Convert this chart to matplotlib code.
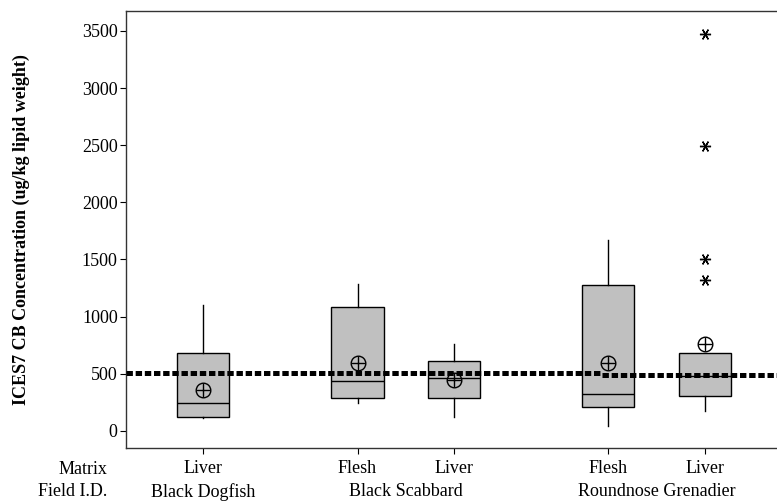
import matplotlib
matplotlib.use("Agg")
import matplotlib.pyplot as plt
import matplotlib.transforms as mtransforms

plt.rcParams['font.family'] = ['Liberation Serif', 'DejaVu Serif']
plt.rcParams['lines.scale_dashes'] = False

# ---- data ----
matrix = ["Liver", "Flesh", "Liver", "Flesh", "Liver"]
species = ["Black Dogfish", "Black Scabbard", "Black Scabbard",
           "Roundnose Grenadier", "Roundnose Grenadier"]
positions = [1.0, 2.6, 3.6, 5.2, 6.2]
whisker_low = [111, 248, 125, 46, 175]
q1 = [125, 291, 291, 213, 304]
median = [248, 440, 467, 326, 481]
q3 = [680, 1085, 615, 1275, 680]
whisker_high = [1102, 1289, 758, 1671, 680]
mean = [359, 598, 446, 598, 764]
outliers = [[], [], [], [], [1321, 1502, 2496, 3471]]
group_names = ["Black Dogfish", "Black Scabbard", "Roundnose Grenadier"]
ref_level = [504, 487]        # dashed reference line, two segments
ref_break = 5.13              # x where reference level changes
yticks = [0, 500, 1000, 1500, 2000, 2500, 3000, 3500]

fig = plt.figure(figsize=(7.77, 5.03), dpi=100)
ax = fig.add_axes([126/777, 1 - 448/503, (782 - 126)/777, (448 - 11)/503])

stats = []
for i in range(len(positions)):
    stats.append(dict(med=median[i], q1=q1[i], q3=q3[i],
                      whislo=whisker_low[i], whishi=whisker_high[i],
                      fliers=outliers[i], mean=mean[i]))

ax.bxp(stats, positions=positions, widths=0.54, patch_artist=True,
       showcaps=False, showmeans=False, showfliers=True,
       boxprops=dict(facecolor='#c0c0c0', edgecolor='black', linewidth=1.0),
       medianprops=dict(color='black', linewidth=1.0),
       whiskerprops=dict(color='black', linewidth=1.0),
       flierprops=dict(marker=(6, 2, 90), markersize=8, markeredgecolor='black',
                       markerfacecolor='black', markeredgewidth=1.0,
                       linestyle='none'),
       zorder=2)

# mean symbols (circle with cross)
ax.plot(positions, mean, linestyle='none', marker='o', markersize=10.5,
        markerfacecolor='none', markeredgecolor='black', markeredgewidth=1.0, zorder=4)
ax.plot(positions, mean, linestyle='none', marker='+', markersize=10.5,
        markeredgecolor='black', markeredgewidth=1.0, zorder=4)

# dashed reference line
xl = (0.2, 7.0)
ax.plot([xl[0], ref_break], [ref_level[0], ref_level[0]], color='black',
        linewidth=3.6, dashes=(4.6, 2.0), zorder=3, dash_capstyle='butt')
ax.plot([ref_break, xl[1]], [ref_level[1], ref_level[1]], color='black',
        linewidth=3.6, dashes=(4.6, 2.0), zorder=3, dash_capstyle='butt')

ax.set_xlim(*xl)
ax.set_ylim(-150, 3675)
ax.set_yticks(yticks)
ax.set_yticklabels([str(v) for v in yticks])
ax.set_xticks(positions)
ax.set_xticklabels(matrix)
ax.tick_params(axis='both', direction='out', length=4.5, width=0.8,
               labelsize=13, color='black')
ax.tick_params(axis='y', pad=1.5)
ax.tick_params(axis='x', pad=4)

for s in ax.spines.values():
    s.set_linewidth(1.0)
    s.set_color('#333333')

ax.set_ylabel("ICES7 CB Concentration (ug/kg lipid weight)", fontsize=13,
              fontweight='bold')
ax.yaxis.set_label_coords(-0.146, 0.5)

# row headers and group labels
fig.text(107/777, 1 - 469/503, "Matrix", ha='right', va='center', fontsize=13)
fig.text(107/777, 1 - 492/503, "Field I.D.", ha='right', va='center', fontsize=13)
trans = mtransforms.blended_transform_factory(ax.transData, fig.transFigure)
for g in group_names:
    xs = [p for p, s in zip(positions, species) if s == g]
    ax.text(sum(xs) / len(xs), 1 - 492/503, g, transform=trans, ha='center',
            va='center', fontsize=13, clip_on=False)

fig.savefig("out.png", dpi=100)
